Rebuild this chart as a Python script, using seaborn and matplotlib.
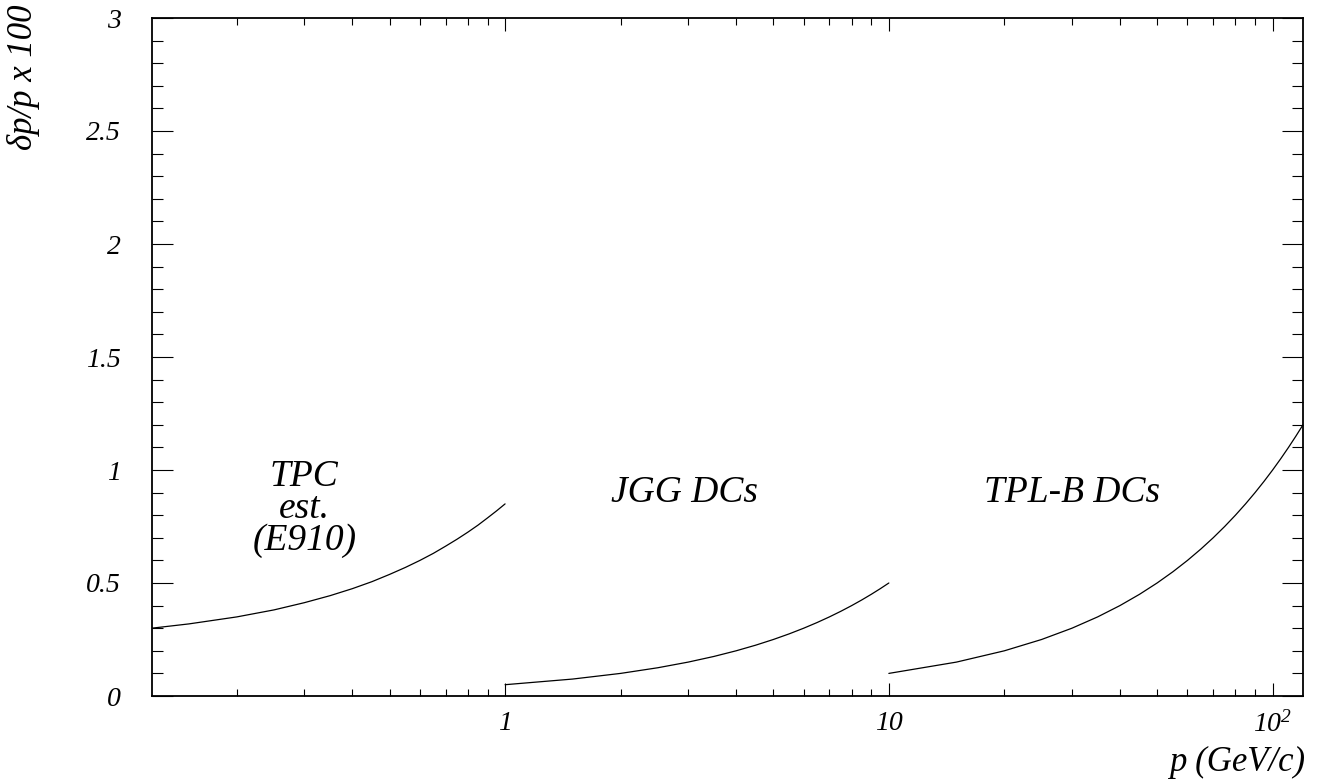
"""
Momentum resolution of the tracking detectors vs p (log scale).
"""

import numpy as np
import pandas as pd
import matplotlib
matplotlib.use("Agg")
import matplotlib.pyplot as plt
from matplotlib.ticker import FixedLocator, FixedFormatter, LogLocator, NullFormatter, MultipleLocator
import seaborn as sns

# values
TPC_P   = [0.12, 0.15, 0.2, 0.25, 0.3, 0.35, 0.4, 0.45, 0.5, 0.55, 0.6, 0.65,
           0.7, 0.75, 0.8, 0.85, 0.9, 0.95, 1.0]
TPC_RES = [0.300, 0.319, 0.350, 0.381, 0.413, 0.444, 0.475, 0.506, 0.538, 0.569,
           0.600, 0.631, 0.663, 0.694, 0.725, 0.756, 0.788, 0.819, 0.850]

JGG_P   = [1.0, 1.5, 2, 2.5, 3, 3.5, 4, 4.5, 5, 5.5, 6, 6.5, 7, 7.5, 8, 8.5, 9, 9.5, 10]
JGG_RES = [0.05, 0.075, 0.10, 0.125, 0.15, 0.175, 0.20, 0.225, 0.25, 0.275, 0.30,
           0.325, 0.35, 0.375, 0.40, 0.425, 0.45, 0.475, 0.50]

TPLB_P   = [10, 15, 20, 25, 30, 35, 40, 45, 50, 55, 60, 65, 70, 75, 80, 85, 90, 95,
            100, 105, 110, 115, 120]
TPLB_RES = [0.10, 0.15, 0.20, 0.25, 0.30, 0.35, 0.40, 0.45, 0.50, 0.55, 0.60, 0.65,
            0.70, 0.75, 0.80, 0.85, 0.90, 0.95, 1.00, 1.05, 1.10, 1.15, 1.20]

DETECTORS = ["TPC", "JGG", "TPL-B"]
LABELS    = ["TPC\nest.\n(E910)", "JGG DCs", "TPL-B DCs"]

X_TICKS       = [1, 10, 100]
X_TICK_LABELS = ["1", "10", "$10^{2}$"]
Y_TICKS       = [0, 0.5, 1, 1.5, 2, 2.5, 3]
Y_TICK_LABELS = ["0", "0.5", "1", "1.5", "2", "2.5", "3"]

W, H = 1325, 780
SERIF = ["Liberation Serif", "DejaVu Serif"]


def build_frame():
    parts = []
    for name, p, r in zip(DETECTORS, [TPC_P, JGG_P, TPLB_P], [TPC_RES, JGG_RES, TPLB_RES]):
        parts.append(pd.DataFrame({"p": p, "res": r, "det": name}))
    return pd.concat(parts, ignore_index=True)


if __name__ == "__main__":
    sns.set_style("ticks")
    plt.rcParams["font.family"] = SERIF
    plt.rcParams["font.style"] = "italic"
    plt.rcParams["text.color"] = "black"
    plt.rcParams["xtick.color"] = "black"
    plt.rcParams["ytick.color"] = "black"
    plt.rcParams["xtick.labelcolor"] = "black"
    plt.rcParams["ytick.labelcolor"] = "black"
    plt.rcParams["mathtext.fontset"] = "custom"
    plt.rcParams["mathtext.rm"] = "Liberation Serif:italic"
    plt.rcParams["mathtext.it"] = "Liberation Serif:italic"

    df = build_frame()

    fig = plt.figure(figsize=(W / 100, H / 100), dpi=100)
    ax = fig.add_axes([151.7 / W, 1 - 696 / H, (1303 - 151.7) / W, (696 - 18) / H])
    ax.set_xscale("log")

    sns.lineplot(data=df, x="p", y="res", hue="det", units="det", estimator=None,
                 palette={d: "black" for d in DETECTORS}, legend=False,
                 linewidth=0.9, sort=False, ax=ax)

    ax.set_xlim(0.12, 120)
    ax.set_ylim(0, 3)

    ax.xaxis.set_major_locator(FixedLocator(X_TICKS))
    ax.xaxis.set_major_formatter(FixedFormatter(X_TICK_LABELS))
    ax.xaxis.set_minor_locator(LogLocator(base=10, subs=np.arange(2, 10)))
    ax.xaxis.set_minor_formatter(NullFormatter())
    ax.yaxis.set_major_locator(FixedLocator(Y_TICKS))
    ax.yaxis.set_major_formatter(FixedFormatter(Y_TICK_LABELS))
    ax.yaxis.set_minor_locator(MultipleLocator(0.1))

    ax.tick_params(axis="x", which="major", direction="in", length=9.5, width=0.8,
                   top=True, bottom=True, labelsize=20, pad=11)
    ax.tick_params(axis="x", which="minor", direction="in", length=5, width=0.8,
                   top=True, bottom=True)
    ax.tick_params(axis="y", which="major", direction="in", length=15, width=0.8,
                   left=True, right=True, labelsize=20, pad=22)
    ax.tick_params(axis="y", which="minor", direction="in", length=8, width=0.8,
                   left=True, right=True)
    for s in ax.spines.values():
        s.set_linewidth(1.3)
        s.set_color("black")

    ax.set_xlabel("")
    ax.set_ylabel("")

    # detector labels
    ax.text(0.30, 0.83, LABELS[0], ha="center", va="center", fontsize=27, linespacing=0.9)
    ax.text(2.94, 0.90, LABELS[1], ha="center", va="center", fontsize=27)
    ax.text(30, 0.90, LABELS[2], ha="center", va="center", fontsize=27)

    # axis titles
    fig.text(1305 / W, 1 - 762 / H, "p (GeV/c)", ha="right", va="center", fontsize=25)
    fig.text(23 / W, 1 - 4 / H, "δp/p x 100", ha="center", va="top", rotation=90, fontsize=25)

    fig.savefig("out.png", dpi=100)
